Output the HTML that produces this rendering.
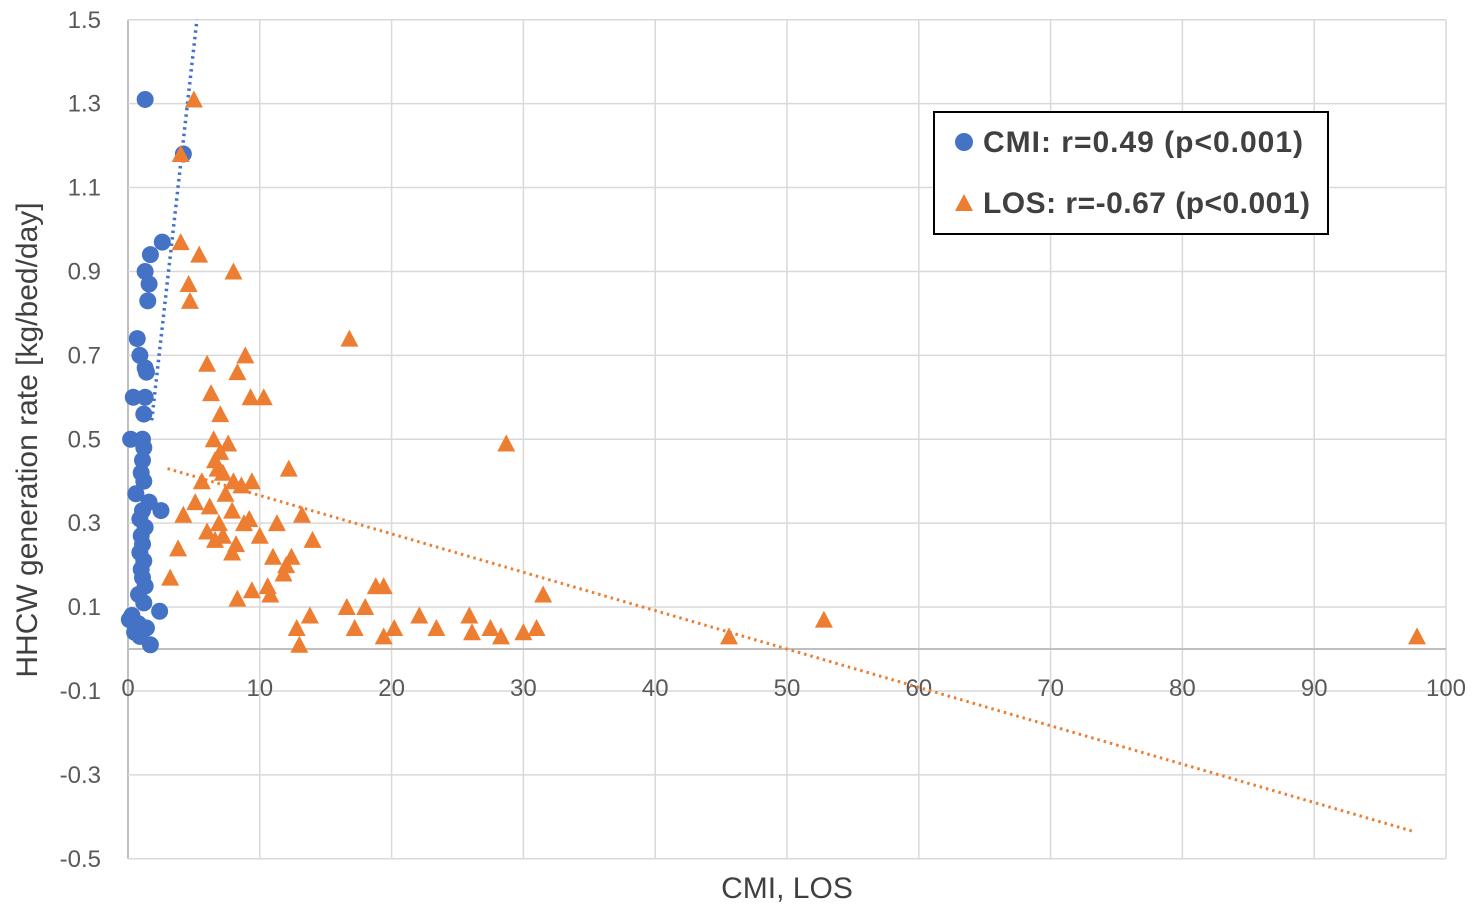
<!DOCTYPE html>
<html><head><meta charset="utf-8"><style>
body{margin:0;background:#fff;}
svg{display:block;font-family:"Liberation Sans",sans-serif;}
</style></head><body>
<svg id="chart" width="1477" height="912">
<g id="grid"></g>
<g id="ticks"></g>
<g id="trends"></g>
<g id="marks"></g>
<text x="787" y="898" font-size="30" fill="#404040" text-anchor="middle">CMI, LOS</text>
<text transform="translate(37,440) rotate(-90)" font-size="30" fill="#404040" text-anchor="middle">HHCW generation rate [kg/bed/day]</text>
<g>
<rect x="934" y="112" width="394" height="122" fill="#fff" stroke="#000" stroke-width="2"/>
<g>
<circle cx="964" cy="142" r="9" fill="#4472C4"/>
<text x="983" y="152" font-size="30" font-weight="bold" fill="#404040" textLength="320">CMI: r=0.49 (p&lt;0.001)</text>
</g>
<g>
<polygon points="964,194 955,211 973,211" fill="#ED7D31"/>
<text x="983" y="213" font-size="30" font-weight="bold" fill="#404040" textLength="327">LOS: r=-0.67 (p&lt;0.001)</text>
</g>
</g>
</svg>
<script>
const xTicks=[0,10,20,30,40,50,60,70,80,90,100];
const yTicks=[1.5,1.3,1.1,0.9,0.7,0.5,0.3,0.1,-0.1,-0.3,-0.5];
const cmiX=[1.3,4.2,2.6,1.7,1.3,1.6,1.5,0.7,0.9,1.3,1.4,0.4,1.3,1.2,0.2,1.1,1.2,1.1,1.0,1.2,0.6,1.6,2.5,1.1,0.9,1.3,1.0,1.1,0.9,1.2,1.0,1.1,1.3,0.8,1.2,2.4,0.3,0.1,0.8,1.4,0.5,0.9,1.7];
const cmiY=[1.31,1.18,0.97,0.94,0.90,0.87,0.83,0.74,0.70,0.67,0.66,0.60,0.60,0.56,0.50,0.50,0.48,0.45,0.42,0.40,0.37,0.35,0.33,0.33,0.31,0.29,0.27,0.25,0.23,0.21,0.19,0.17,0.15,0.13,0.11,0.09,0.08,0.07,0.06,0.05,0.04,0.03,0.01];
const losX=[5.0,4.0,4.0,5.4,8.0,4.6,4.7,16.8,8.9,6.0,8.3,6.3,9.3,10.3,7.0,28.7,6.5,7.6,7.0,6.6,12.2,7.2,6.8,5.6,8.0,9.4,8.6,7.4,5.1,6.2,7.9,13.2,4.2,11.3,8.8,9.2,6.9,6.0,7.2,10.0,14.0,6.6,8.2,3.8,7.9,12.4,11.0,12.0,11.8,3.2,18.8,19.4,10.6,9.4,10.8,31.5,8.3,18.0,16.6,13.8,22.1,25.9,52.8,12.8,17.2,20.2,23.4,27.5,31.0,26.1,30.0,19.4,28.3,45.6,97.8,13.0];
const losY=[1.31,1.18,0.97,0.94,0.90,0.87,0.83,0.74,0.70,0.68,0.66,0.61,0.60,0.60,0.56,0.49,0.50,0.49,0.47,0.45,0.43,0.42,0.43,0.40,0.40,0.40,0.39,0.37,0.35,0.34,0.33,0.32,0.32,0.30,0.30,0.31,0.30,0.28,0.27,0.27,0.26,0.26,0.25,0.24,0.23,0.22,0.22,0.20,0.18,0.17,0.15,0.15,0.15,0.14,0.13,0.13,0.12,0.10,0.10,0.08,0.08,0.08,0.07,0.05,0.05,0.05,0.05,0.05,0.05,0.04,0.04,0.03,0.03,0.03,0.03,0.01];
const cmiTrendX=[1.8,5.23];
const cmiTrend=[0.045,0.278];
const losTrendX=[3,97.7];
const losTrend=[0.4575,-0.00915];

const NS="http://www.w3.org/2000/svg";
const X=v=>128+v*13.18;
const Y=v=>649-v*419.5;
function mk(tag,attrs,parent){const e=document.createElementNS(NS,tag);for(const k in attrs)e.setAttribute(k,attrs[k]);parent.appendChild(e);return e;}
const grid=document.getElementById('grid'),ticks=document.getElementById('ticks'),trends=document.getElementById('trends'),marks=document.getElementById('marks');
xTicks.forEach(t=>{
 const l=mk('line',{x1:X(t),x2:X(t),y1:Y(1.5),y2:Y(-0.5),stroke:t===0?'#bfbfbf':'#d9d9d9','stroke-width':t===0?2:1.5},grid);
 
 
 const tx=mk('text',{x:X(t),y:696,'font-size':24,fill:'#595959','text-anchor':'middle'},ticks);
 tx.textContent=t;
 
 
});
yTicks.forEach(t=>{
 const l=mk('line',{x1:X(0),x2:X(100),y1:Y(t),y2:Y(t),stroke:'#d9d9d9','stroke-width':1.5},grid);
 
 
 const tx=mk('text',{x:101,y:Y(t)+8,'font-size':24,fill:'#595959','text-anchor':'end'},ticks);
 tx.textContent=t.toFixed(1);
 
 
});
const ax=mk('line',{x1:X(0),x2:X(100),y1:Y(0),y2:Y(0),stroke:'#bfbfbf','stroke-width':2},grid);


cmiX.forEach((v,i)=>{
 const c=mk('circle',{cx:X(v),cy:Y(cmiY[i]),r:8.5,fill:'#4472C4'},marks);
 
 
});
losX.forEach((v,i)=>{
 const x=X(v),y=Y(losY[i]);
 const p=mk('polygon',{points:`${x},${y-9} ${x-9},${y+8} ${x+9},${y+8}`,fill:'#ED7D31'},marks);
 
 
});
const t1=mk('line',{x1:X(cmiTrendX[0]),y1:Y(cmiTrend[0]+cmiTrend[1]*cmiTrendX[0]*0+0.5),x2:X(cmiTrendX[1]),y2:Y(1.5),stroke:'#4472C4','stroke-width':3.5,'stroke-dasharray':'2.5 4'},trends);


const t2=mk('line',{x1:X(losTrendX[0]),y1:Y(losTrend[0]+losTrend[1]*losTrendX[0]),x2:X(losTrendX[1]),y2:Y(losTrend[0]+losTrend[1]*losTrendX[1]),stroke:'#ED7D31','stroke-width':3,'stroke-dasharray':'2.5 4'},trends);


</script>
</body></html>
